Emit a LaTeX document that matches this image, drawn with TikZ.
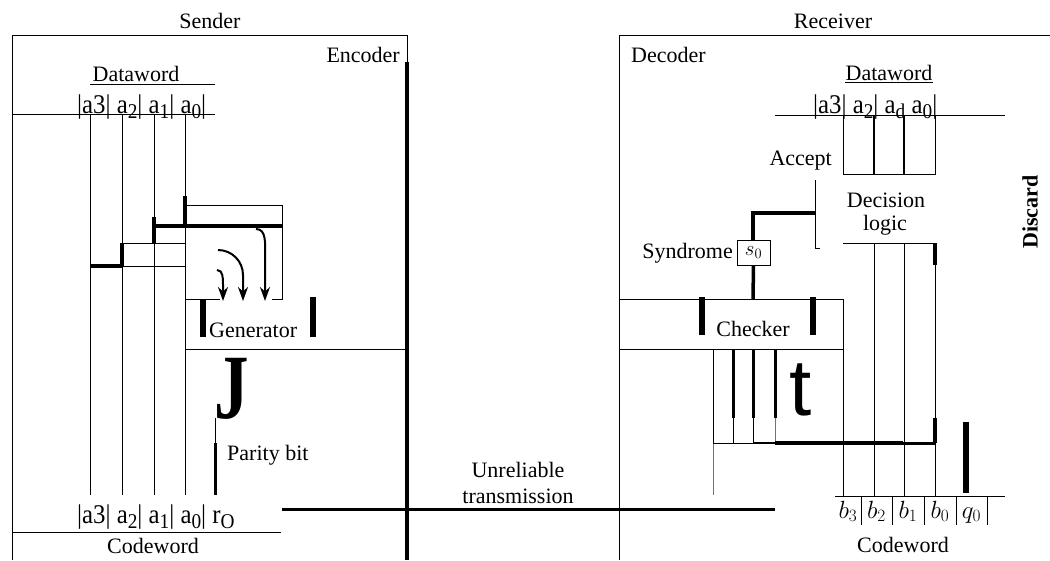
\documentclass[tikz,border=0pt]{standalone}
\usepackage{fontspec}
\usepackage{graphicx}
\setmainfont{Liberation Serif}
\newfontfamily\sansfont{Liberation Sans}
\usetikzlibrary{arrows.meta}

\newcommand{\bitrow}[1]{\scalebox{0.92}[1]{\fontsize{27}{27}\selectfont #1}}
\newcommand{\bsub}[1]{\raisebox{-0.22em}{\fontsize{21}{21}\selectfont #1}}

\begin{document}
\begin{tikzpicture}[
x=1pt, y=-1pt,
font=\fontsize{22}{24}\selectfont,
lbl/.style={inner sep=0pt, anchor=base},
wire/.style={line width=1pt},
bus/.style={line width=3.5pt},
bar/.style={line width=6pt},
faint/.style={line width=1pt, black!55},
flow/.style={line width=2pt, -{Stealth[length=14pt, width=10pt]}}
]
\useasboundingbox (0,0) rectangle (1050,560);

% --- Sender / Encoder ---
\node[lbl] (sender) at (210,28) {Sender};
\draw[wire] (12,560) -- (12,35) -- (407,35) -- (407,62);
\draw[bus] (407,62) -- (407,560);
\node[lbl, anchor=base east] (encoder) at (400,62) {Encoder};

\node[lbl] (dwordL) at (136,81) {Dataword};
\draw[wire] (90,84) -- (215,84);
\node[lbl, anchor=base west] (bitsL) at (77,113) {\bitrow{|a3| a\bsub{2}| a\bsub{1}| a\bsub{0}|}};
\draw[wire] (12,114) -- (215,114);
\foreach \x in {90,122,154,185}
  \draw[wire] (\x,114) -- (\x,495);

% --- Generator ---
\draw[wire] (185,205) -- (282,205) -- (282,299) -- (272,299);
\draw[wire] (185,299) -- (220,299);
\draw[bus] (154,226) -- (282,226);
\draw[bus] (185,196) -- (185,226);
\draw[bus] (154,217) -- (154,243);
\draw[wire] (122,243) -- (185,243);
\draw[bus] (122,243) -- (122,266);
\draw[bus] (90,266) -- (122,266);
\draw[wire] (122,266) -- (185,266);
\draw[flow] (256,229) to[out=0, in=90] (265,255) -- (265,301);
\draw[flow] (218,250) to[out=0, in=90] (243,275) -- (243,301);
\draw[flow] (217,270) to[out=0, in=90] (223,284) -- (223,301);
\draw[bar] (203,299) -- (203,337);
\draw[bar] (313,297) -- (313,337);
\node[lbl, anchor=base west] (generator) at (209,337) {Generator};
\draw[wire] (185,349) -- (407,349);

\node[lbl, anchor=base west, font=\fontsize{92}{92}\selectfont\bfseries] (bigJ) at (214,418) {\scalebox{0.75}[1]{J}};
\draw[wire] (215,418) -- (215,443);
\draw[line width=3pt] (215,443) -- (215,495);
\node[lbl, anchor=base west] (parity) at (227,460) {Parity bit};

\node[lbl, anchor=base west] (cwordbitsL) at (77,523) {\bitrow{|a3| a\bsub{2}| a\bsub{1}| a\bsub{0}| r\bsub{O}}};
\draw[wire] (12,532) -- (281,532);
\node[lbl] (cwordL) at (153,553) {Codeword};

% --- Canal ---
\draw[line width=3pt] (282,509) -- (775,509);
\node[lbl] (unrel) at (518,477) {Unreliable};
\node[lbl] (trans) at (518,503) {transmission};

% --- Receiver / Decoder ---
\node[lbl] (receiver) at (833,28) {Receiver};
\draw[wire] (619,560) -- (619,35) -- (1050,35);
\node[lbl, anchor=base west] (decoder) at (631,62) {Decoder};

\node[lbl] (dwordR) at (889,80) {Dataword};
\draw[wire] (845,82) -- (933,82);
\node[lbl, anchor=base west] (bitsR) at (813,113) {\bitrow{|a3| a\bsub{2}| a\bsub{d} a\bsub{0}|}};
\draw[wire] (775,115) -- (1005,115);
\draw[wire] (843,115) -- (843,174) -- (935,174) -- (935,115);
\draw[line width=2.5pt] (874,115) -- (874,174);
\draw[line width=2.5pt] (904,115) -- (904,174);
\node[lbl, anchor=base east] (accept) at (832,165) {Accept};

% --- Decision logic ---
\draw[wire] (815,180) -- (815,248) -- (820,248);
\draw[bus] (815,213) -- (753,213) -- (753,240);
\node[lbl] (decision) at (886,207) {Decision};
\node[lbl] (logic) at (885,230) {logic};
\node[draw, line width=1pt, minimum width=33pt, minimum height=25pt, inner sep=0pt] (synd) at (753.5,252.5) {$s_0$};
\node[lbl, anchor=base east] (syndrome) at (733,258) {Syndrome};
\draw[bus] (synd.south) -- (753,299);
\node[lbl, rotate=90, anchor=center, font=\fontsize{22}{24}\selectfont\bfseries] (discard) at (1030,212) {Discard};

\draw[wire] (843,243) -- (935,243);
\foreach \x in {874,904}
  \draw[wire] (\x,243) -- (\x,496);
\draw[bus] (935,243) -- (935,265);
\draw[wire] (935,265) -- (935,418);
\draw[bus] (935,418) -- (935,443);
\draw[wire] (935,443) -- (935,496);

% --- Checker ---
\draw[wire] (619,299) -- (843,299) -- (843,496);
\draw[wire] (619,349) -- (843,349);
\draw[bar] (702,297) -- (702,335);
\draw[bar] (813,297) -- (813,335);
\node[lbl] (checker) at (753,336) {Checker};

\draw[wire] (713,349) -- (713,443);
\draw[faint] (713,443) -- (713,495);
\foreach \x in {733,753,775}
  \draw[line width=3pt] (\x,349) -- (\x,418);
\draw[wire] (733,418) -- (733,443);
\draw[wire] (753,418) -- (753,443);
\draw[faint] (775,418) -- (775,443);
\draw[wire] (713,443) -- (753,443);
\draw[line width=2.5pt] (753,443) -- (775,443);
\draw[line width=4.5pt] (775,443) -- (903,443);
\draw[line width=3pt] (903,443) -- (935,443);
\node[lbl, anchor=base west, font=\sansfont\fontsize{80}{80}\selectfont] (bigT) at (789,415) {t};

\draw[bar] (966,422) -- (966,493);

% --- Codeword (recu) ---
\draw[wire] (835,496) -- (1005,496);
\foreach \x in {861,892,924,956,987}
  \draw[wire] (\x,496) -- (\x,525);
\node[lbl, font=\fontsize{25}{25}\selectfont] (b3) at (848,518) {$b_3$};
\node[lbl, font=\fontsize{25}{25}\selectfont] (b2) at (876.5,518) {$b_2$};
\node[lbl, font=\fontsize{25}{25}\selectfont] (b1) at (908,518) {$b_1$};
\node[lbl, font=\fontsize{25}{25}\selectfont] (b0) at (940,518) {$b_0$};
\node[lbl, font=\fontsize{25}{25}\selectfont] (q0) at (971.5,518) {$q_0$};
\node[lbl] (cwordR) at (903,552) {Codeword};

\end{tikzpicture}
\end{document}
